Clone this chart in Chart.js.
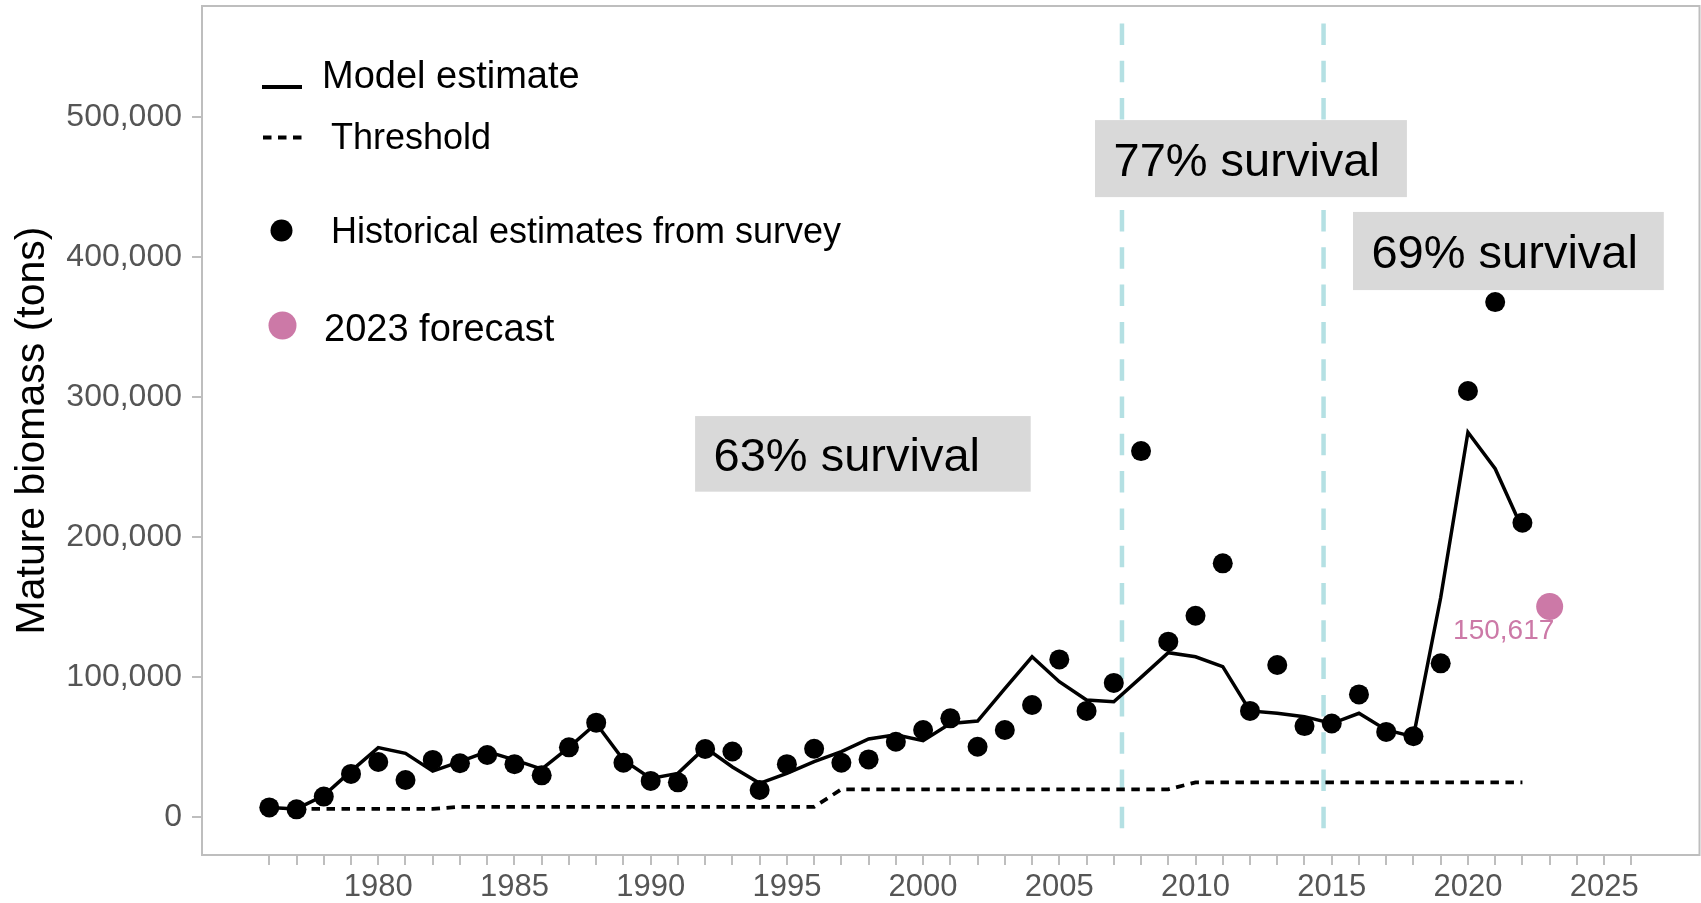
<!DOCTYPE html>
<html>
<head>
<meta charset="utf-8">
<title>Mature biomass</title>
<script src="https://cdn.jsdelivr.net/npm/chart.js"></script>
<style>
  html, body { margin: 0; padding: 0; background: #fff; }
  #wrap { width: 1701px; height: 903px; }
</style>
</head>
<body>
<div id="wrap"><canvas id="biomass" width="1701" height="903"></canvas></div>
<script>
// ---- data (tons) ----
const years = [1976, 1977, 1978, 1979, 1980, 1981, 1982, 1983, 1984, 1985,
  1986, 1987, 1988, 1989, 1990, 1991, 1992, 1993, 1994, 1995,
  1996, 1997, 1998, 1999, 2000, 2001, 2002, 2003, 2004, 2005,
  2006, 2007, 2008, 2009, 2010, 2011, 2012, 2013, 2014, 2015,
  2016, 2017, 2018, 2019, 2020, 2021, 2022];

const surveyBiomass = [7100, 5700, 14800, 31000, 39500, 26700, 41000, 38600, 44500, 38000,
  30000, 50000, 67600, 39000, 26000, 25000, 48800, 47000, 19500, 38000,
  49000, 39000, 41400, 54000, 62400, 70700, 50400, 62400, 80200, 112800,
  76000, 96000, 261600, 125500, 144000, 181400, 76000, 108800, 65200, 67000,
  87800, 61000, 58000, 110000, 304500, 368000, 210400];

const modelBiomass = [7100, 6000, 15500, 33000, 49800, 45700, 33000, 39800, 47000, 41000,
  34500, 50000, 67000, 41000, 27800, 31400, 49800, 36000, 24300, 31400,
  39800, 47000, 56000, 59000, 54700, 67000, 68800, 92000, 114700, 96900,
  83800, 82600, 100000, 117600, 114700, 107600, 76000, 74300, 71900, 67000,
  74300, 62400, 57600, 157000, 275000, 249000, 206000];

const thresholdBiomass = [null, 6000, 6000, 6000, 6000, 6000, 6000, 7500, 7500, 7500,
  7500, 7500, 7500, 7500, 7500, 7500, 7500, 7500, 7500, 7500,
  7500, 20000, 20000, 20000, 20000, 20000, 20000, 20000, 20000, 20000,
  20000, 20000, 20000, 20000, 25000, 25000, 25000, 25000, 25000, 25000,
  25000, 25000, 25000, 25000, 25000, 25000, 25000];

const forecastYear = [2023];
const forecastBiomass = [150617];

const yTickValues = [0, 100000, 200000, 300000, 400000, 500000];
const xLabelYears = [1980, 1985, 1990, 1995, 2000, 2005, 2010, 2015, 2020, 2025];
const regimeBreaks = [2007.3, 2014.7];
const survivalLabels = ['63% survival', '77% survival', '69% survival'];

// ---- placement / styling ----
const FONT = '"Liberation Sans", Arial, Helvetica, sans-serif';
const AXIS_GREY = '#bebebe';
const TICK_TEXT = '#555555';
const PINK = '#cc79a7';
const BREAK_BLUE = '#b4e0e3';

// grey boxes in data units (x years, y tons)
const survivalBoxes = [
  { x0: 1991.63, x1: 2003.95, y0: 232600, y1: 286600 },
  { x0: 2006.31, x1: 2017.76, y0: 443000, y1: 498000 },
  { x0: 2015.78, x1: 2027.19, y0: 376600, y1: 432400 },
];
const breakSpan = [567000, -7900];

const xTickYears = [];
for (let yr = 1976; yr <= 2026; yr++) xTickYears.push(yr);

const pts = (xs, ys) => xs.map((x, i) => ({ x: x, y: ys[i] }));

const overlay = {
  id: 'overlay',
  beforeDatasetsDraw(chart) {
    const { ctx, chartArea: a, scales: { x, y } } = chart;
    ctx.save();
    ctx.beginPath();
    ctx.rect(a.left, a.top, a.width, a.height);
    ctx.clip();

    // vertical dashed lines where survival changes
    ctx.strokeStyle = BREAK_BLUE;
    ctx.lineWidth = 4.5;
    ctx.setLineDash([21.5, 15.8]);
    regimeBreaks.forEach(yr => {
      const px = x.getPixelForValue(yr);
      ctx.beginPath();
      ctx.moveTo(px, y.getPixelForValue(breakSpan[0]));
      ctx.lineTo(px, y.getPixelForValue(breakSpan[1]));
      ctx.stroke();
    });
    ctx.setLineDash([]);

    // survival labels
    const size = 47;
    ctx.font = size + 'px ' + FONT;
    ctx.textAlign = 'left';
    ctx.textBaseline = 'alphabetic';
    survivalLabels.forEach((txt, i) => {
      const b = survivalBoxes[i];
      const l = x.getPixelForValue(b.x0), r = x.getPixelForValue(b.x1);
      const t = y.getPixelForValue(b.y1), btm = y.getPixelForValue(b.y0);
      ctx.fillStyle = '#d9d9d9';
      ctx.fillRect(l, t, r - l, btm - t);
      ctx.fillStyle = '#000';
      ctx.fillText(txt, l + 18.5, (t + btm) / 2 + size * 0.36);
    });
    ctx.restore();
  },
  afterDatasetsDraw(chart) {
    const { ctx } = chart;
    // forecast value under the pink point
    const p = chart.getDatasetMeta(1).data[0];
    ctx.save();
    ctx.font = '28px ' + FONT;
    ctx.fillStyle = PINK;
    ctx.textAlign = 'center';
    ctx.textBaseline = 'middle';
    ctx.fillText(forecastBiomass[0].toLocaleString('en-US'), p.x - 46, p.y + 25);
    ctx.restore();
  },
  afterDraw(chart) {
    const { ctx, chartArea: a } = chart;
    const ds = chart.data.datasets;
    ctx.save();
    // panel border
    ctx.strokeStyle = AXIS_GREY;
    ctx.lineWidth = 2;
    ctx.strokeRect(a.left, a.top, a.right - a.left, a.bottom - a.top);

    // legend
    ctx.fillStyle = '#000';
    ctx.textAlign = 'left';
    ctx.textBaseline = 'alphabetic';

    ctx.strokeStyle = '#000';
    ctx.lineWidth = 4;
    ctx.beginPath(); ctx.moveTo(262, 87); ctx.lineTo(302, 87); ctx.stroke();
    ctx.font = '38px ' + FONT;
    ctx.fillText(ds[2].label, 322, 88);

    ctx.setLineDash([8.5, 6.5]);
    ctx.lineWidth = 3.8;
    ctx.beginPath(); ctx.moveTo(263, 137.5); ctx.lineTo(303, 137.5); ctx.stroke();
    ctx.setLineDash([]);
    ctx.font = '36px ' + FONT;
    ctx.fillText(ds[3].label, 331, 149);

    ctx.beginPath(); ctx.arc(281.5, 230.5, 11, 0, Math.PI * 2); ctx.fill();
    ctx.fillText(ds[0].label, 331, 243);

    ctx.fillStyle = PINK;
    ctx.beginPath(); ctx.arc(282.5, 325.5, 14, 0, Math.PI * 2); ctx.fill();
    ctx.fillStyle = '#000';
    ctx.font = '38px ' + FONT;
    ctx.fillText(ds[1].label, 324, 340.5);
    ctx.restore();
  }
};

Chart.defaults.font.family = FONT;

new Chart(document.getElementById('biomass'), {
  type: 'line',
  data: {
    datasets: [
      {
        label: 'Historical estimates from survey',
        data: pts(years, surveyBiomass),
        showLine: false,
        pointRadius: 10,
        pointBackgroundColor: '#000',
        pointBorderColor: '#000',
        pointBorderWidth: 0,
        order: 0
      },
      {
        label: '2023 forecast',
        data: pts(forecastYear, forecastBiomass),
        showLine: false,
        pointRadius: 13.5,
        pointBackgroundColor: PINK,
        pointBorderColor: PINK,
        pointBorderWidth: 0,
        order: 1
      },
      {
        label: 'Model estimate',
        data: pts(years, modelBiomass),
        borderColor: '#000',
        borderWidth: 3.5,
        pointRadius: 0,
        tension: 0,
        order: 2
      },
      {
        label: 'Threshold',
        data: pts(years, thresholdBiomass),
        borderColor: '#000',
        borderWidth: 3.8,
        borderDash: [8.5, 6.5],
        pointRadius: 0,
        tension: 0,
        order: 3
      }
    ]
  },
  options: {
    responsive: false,
    animation: false,
    events: [],
    layout: { autoPadding: false, padding: { left: 0, top: 6, right: 1.5, bottom: 0 } },
    plugins: { legend: { display: false }, tooltip: { enabled: false } },
    scales: {
      x: {
        type: 'linear',
        min: 1973.53,
        max: 2028.5,
        afterBuildTicks: s => { s.ticks = xTickYears.map(v => ({ value: v })); },
        afterFit: s => { s.height = 48; s.paddingLeft = 0; s.paddingRight = 0; },
        border: { display: false },
        grid: { drawOnChartArea: false, drawTicks: true, tickLength: 10, color: AXIS_GREY, lineWidth: 2 },
        ticks: {
          autoSkip: false,
          maxRotation: 0,
          padding: 4,
          color: TICK_TEXT,
          font: { size: 31 },
          callback: v => xLabelYears.includes(v) ? String(v) : ''
        }
      },
      y: {
        type: 'linear',
        min: -26900,
        max: 579500,
        afterBuildTicks: s => { s.ticks = yTickValues.map(v => ({ value: v })); },
        afterFit: s => { s.width = 202; s.paddingTop = 0; s.paddingBottom = 0; },
        border: { display: false },
        grid: { drawOnChartArea: false, drawTicks: true, tickLength: 10, color: AXIS_GREY, lineWidth: 2 },
        ticks: {
          padding: 10,
          color: TICK_TEXT,
          font: { size: 32 },
          callback: v => v.toLocaleString('en-US')
        },
        title: {
          display: true,
          text: 'Mature biomass (tons)',
          color: '#000',
          font: { size: 41 },
          padding: { top: 8, bottom: 0 }
        }
      }
    }
  },
  plugins: [overlay]
});
</script>
</body>
</html>
